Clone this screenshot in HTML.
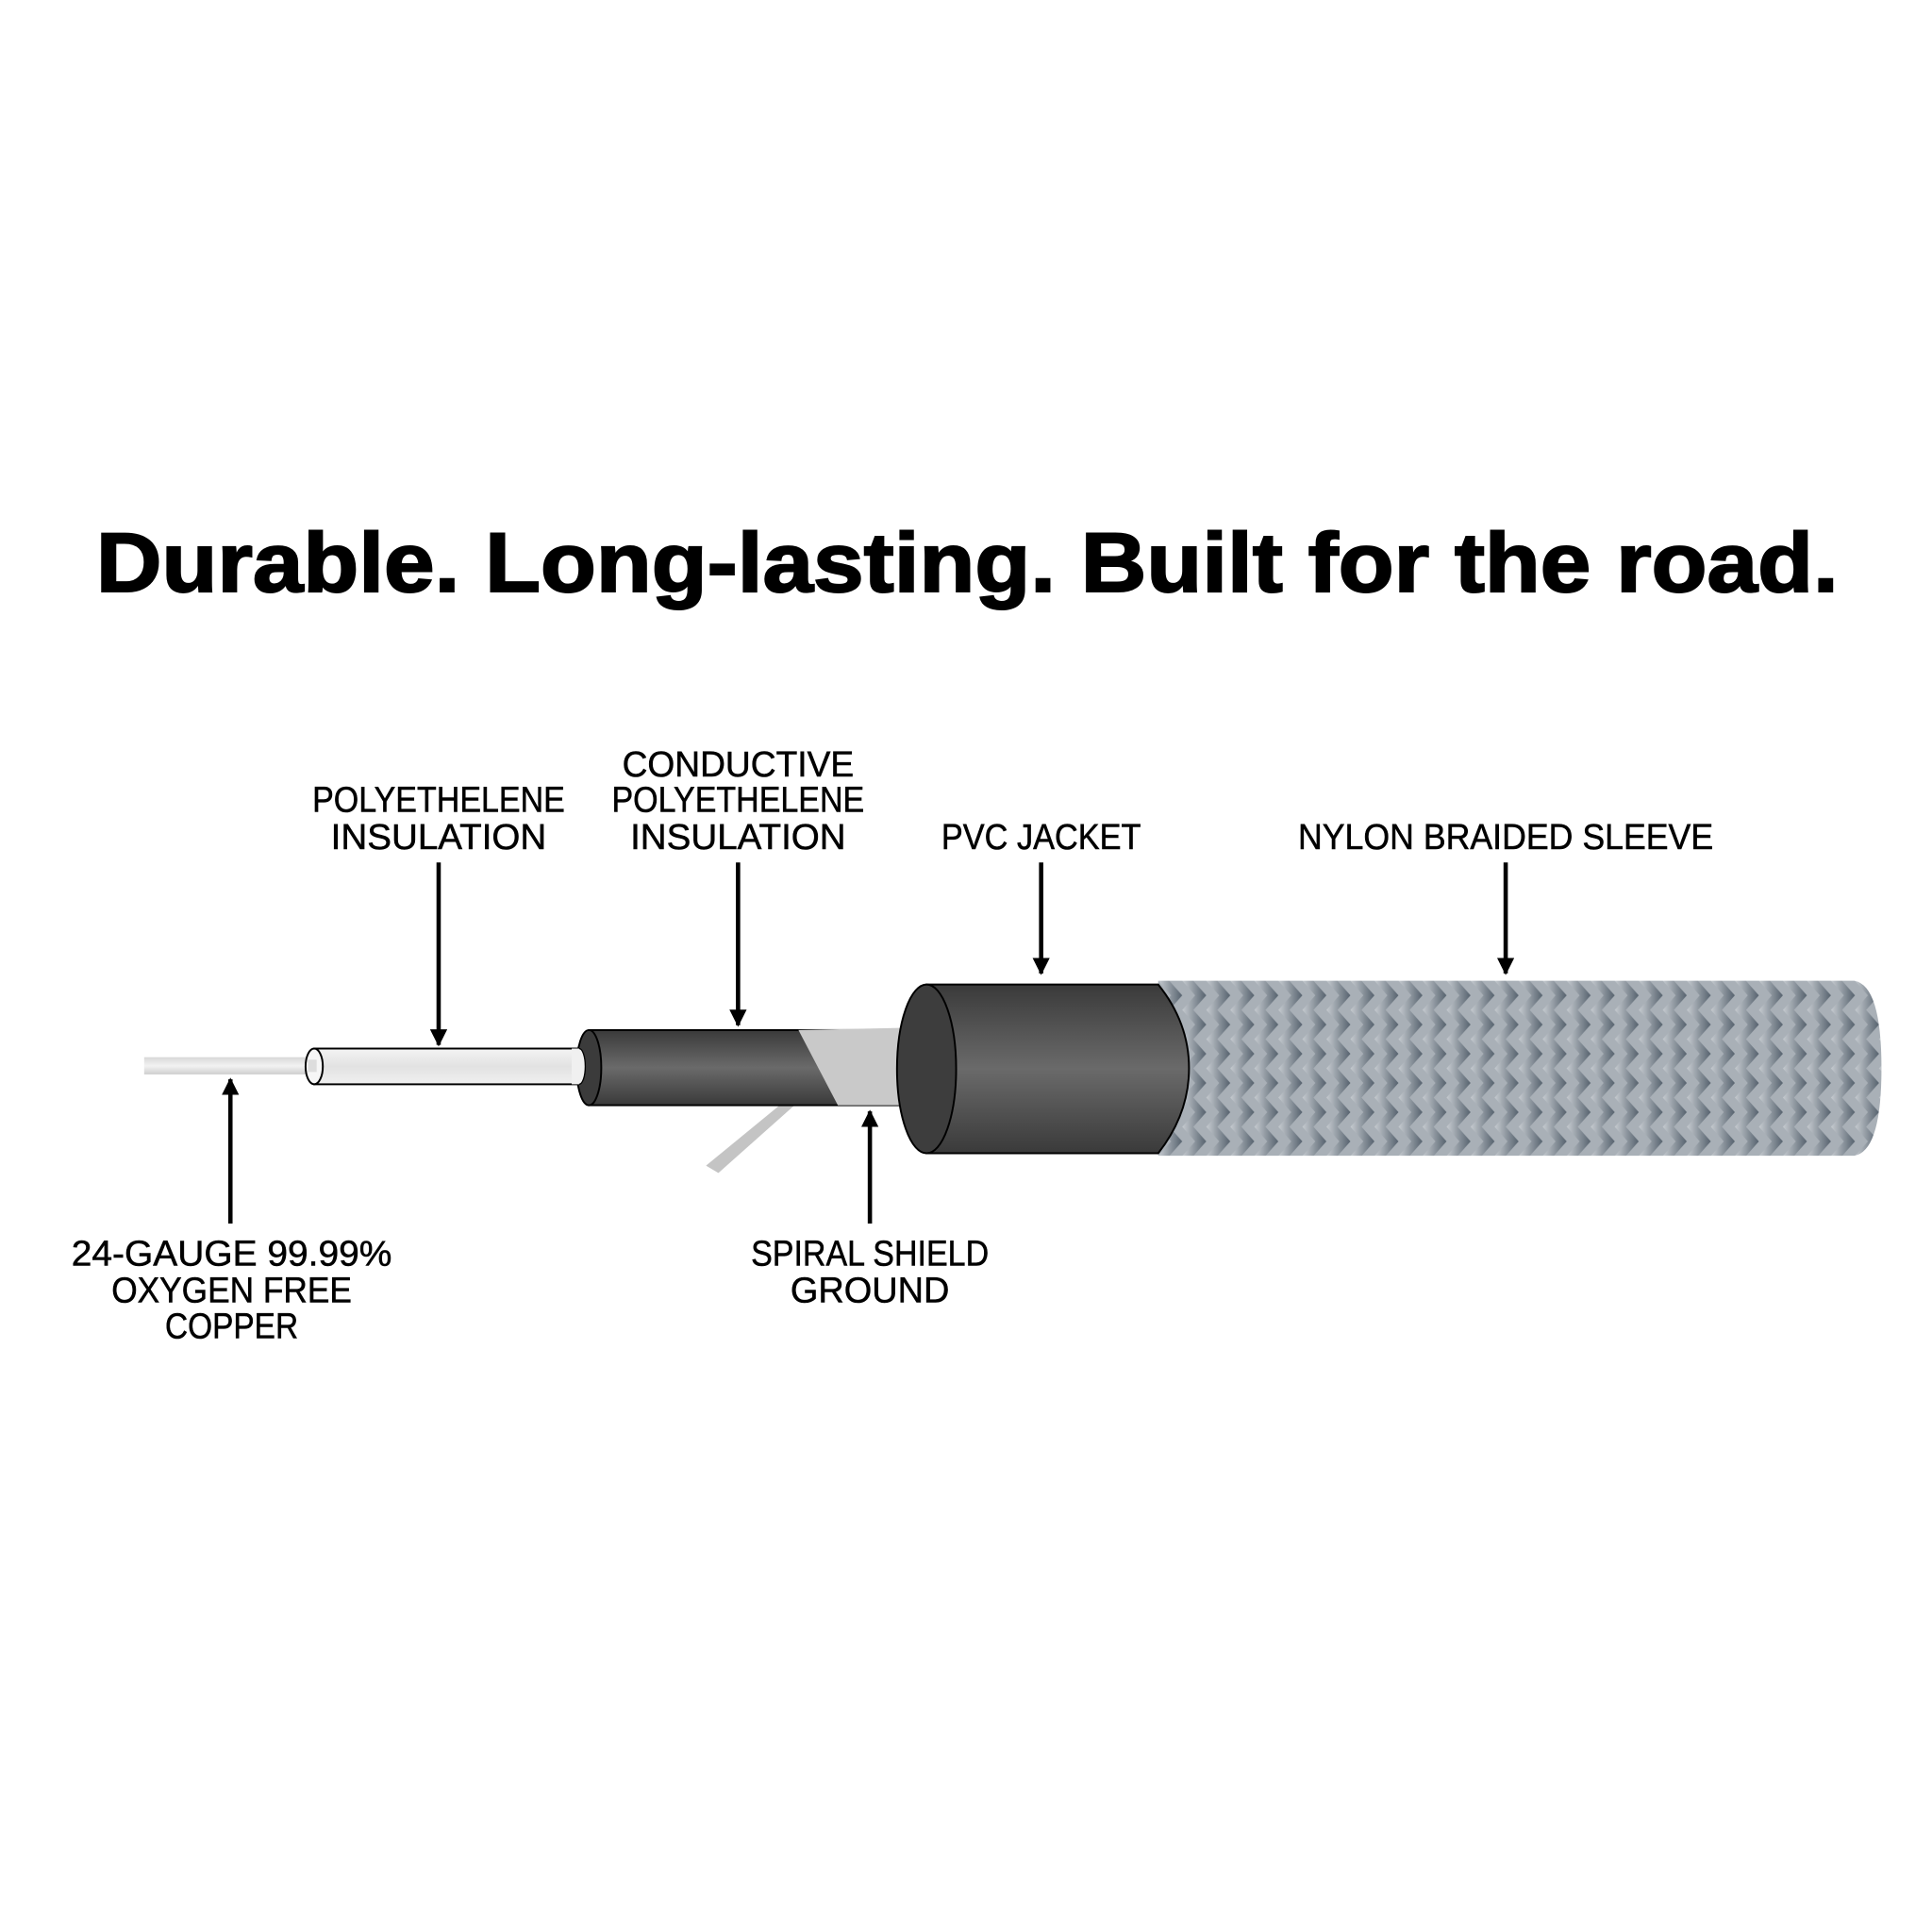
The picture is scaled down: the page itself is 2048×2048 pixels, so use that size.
<!DOCTYPE html>
<html><head><meta charset="utf-8"><style>html,body{margin:0;padding:0;background:#fff}svg{display:block}</style></head>
<body>
<svg width="2048" height="2048" viewBox="0 0 1568 1568" xmlns="http://www.w3.org/2000/svg">
<defs>
<linearGradient id="blk" x1="0" y1="0" x2="0" y2="1">
<stop offset="0" stop-color="#3a3a3a"/><stop offset="0.5" stop-color="#6a6a6a"/><stop offset="1" stop-color="#3a3a3a"/></linearGradient>
<linearGradient id="wht" x1="0" y1="0" x2="0" y2="1">
<stop offset="0" stop-color="#f4f4f4"/><stop offset="0.5" stop-color="#e2e2e2"/><stop offset="1" stop-color="#f0f0f0"/></linearGradient>
<linearGradient id="cu" x1="0" y1="0" x2="0" y2="1">
<stop offset="0" stop-color="#d8d8d8"/><stop offset="0.5" stop-color="#f2f2f2"/><stop offset="1" stop-color="#cfcfcf"/></linearGradient>
<linearGradient id="chev" x1="0" y1="0" x2="1" y2="0">
<stop offset="0" stop-color="#c6cbd0"/><stop offset="1" stop-color="#56626e"/></linearGradient>
<pattern id="braid" x="940" y="796" width="19.5" height="23.7" patternUnits="userSpaceOnUse">
<rect width="19.5" height="23.7" fill="#a9b0b7"/>
<polygon points="0,0 9,0 19.5,11.85 9,23.7 0,23.7 10.5,11.85" fill="url(#chev)"/>
</pattern>
<marker id="ah" viewBox="0 0 10 10" refX="9" refY="5" markerWidth="4" markerHeight="4" orient="auto"><path d="M0,0 L10,5 L0,10 z" fill="#000"/></marker>
</defs>

<text x="785" y="480" text-anchor="middle" font-family="Liberation Sans, sans-serif" font-weight="bold" font-size="68" textLength="1414" lengthAdjust="spacingAndGlyphs" stroke="#000" stroke-width="1.5">Durable. Long-lasting. Built for the road.</text>

<g font-family="Liberation Sans, sans-serif" font-size="29" text-anchor="middle" fill="#000" stroke="#000" stroke-width="0.4">
<text x="356" y="659" textLength="205" lengthAdjust="spacingAndGlyphs">POLYETHELENE</text>
<text x="356" y="689" textLength="175" lengthAdjust="spacingAndGlyphs">INSULATION</text>
<text x="599" y="630" textLength="188" lengthAdjust="spacingAndGlyphs">CONDUCTIVE</text>
<text x="599" y="659" textLength="205" lengthAdjust="spacingAndGlyphs">POLYETHELENE</text>
<text x="599" y="689" textLength="175" lengthAdjust="spacingAndGlyphs">INSULATION</text>
<text x="845" y="689" textLength="162" lengthAdjust="spacingAndGlyphs">PVC JACKET</text>
<text x="1222" y="689" textLength="337" lengthAdjust="spacingAndGlyphs">NYLON BRAIDED SLEEVE</text>
<text x="188" y="1027" textLength="260" lengthAdjust="spacingAndGlyphs">24-GAUGE 99.99%</text>
<text x="188" y="1057" textLength="195" lengthAdjust="spacingAndGlyphs">OXYGEN FREE</text>
<text x="188" y="1086" textLength="108" lengthAdjust="spacingAndGlyphs">COPPER</text>
<text x="706" y="1027" textLength="193" lengthAdjust="spacingAndGlyphs">SPIRAL SHIELD</text>
<text x="706" y="1057" textLength="129" lengthAdjust="spacingAndGlyphs">GROUND</text>
</g>

<g stroke="#000" stroke-width="3.5" marker-end="url(#ah)">
<line x1="356" y1="700" x2="356" y2="848"/>
<line x1="599" y1="700" x2="599" y2="832"/>
<line x1="845" y1="700" x2="845" y2="790"/>
<line x1="1222" y1="700" x2="1222" y2="790"/>
<line x1="187" y1="993" x2="187" y2="876"/>
<line x1="706" y1="993" x2="706" y2="902"/>
</g>

<rect x="117" y="858" width="140" height="14" fill="url(#cu)"/>
<rect x="255" y="851" width="215" height="29" fill="url(#wht)" stroke="#000" stroke-width="1.5"/>
<ellipse cx="255" cy="865.5" rx="7" ry="14.5" fill="#f6f6f6" stroke="#000" stroke-width="1.5"/>
<rect x="250" y="860" width="7" height="10" fill="#ddd"/>
<polygon points="634,896 646,896 583,952 573,946" fill="#c4c4c4"/>
<rect x="478" y="836" width="272" height="61" fill="url(#blk)" stroke="#000" stroke-width="1.5"/>
<ellipse cx="478" cy="866.5" rx="10" ry="30.5" fill="#3b3b3b" stroke="#000" stroke-width="1.5"/>
<ellipse cx="470" cy="865.5" rx="5" ry="14.5" fill="#f0f0f0" stroke="#000" stroke-width="1"/>
<rect x="464" y="851" width="6" height="29" fill="#f0f0f0"/>
<polygon points="648,836 744,834 752,866 745,897 680,897" fill="#c9c9c9"/>
<path d="M940 796 L1505 796 Q1527 800 1527 867 Q1527 934 1505 938 L940 938 Z" fill="url(#braid)"/>
<path d="M752 799 L940 799 Q965 830 965 867 Q965 904 940 936 L752 936 Z" fill="url(#blk)" stroke="#000" stroke-width="1.5"/>
<ellipse cx="752" cy="867.5" rx="24" ry="68.5" fill="#3d3d3d" stroke="#000" stroke-width="1.5"/>
</svg>
</body></html>
